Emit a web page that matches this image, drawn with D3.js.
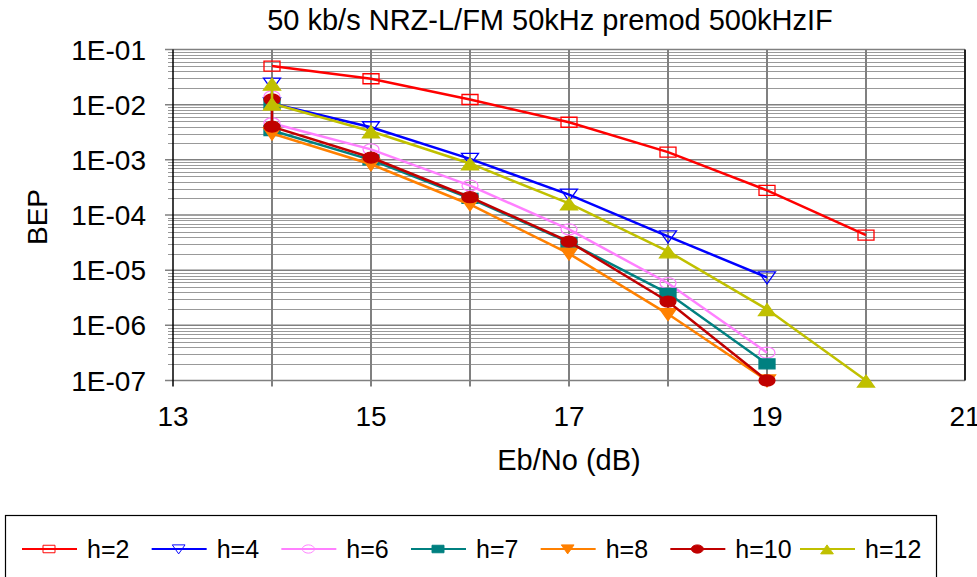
<!DOCTYPE html>
<html>
  <head>
    <meta charset="UTF-8">
    <script src="https://d3js.org/d3.v7.min.js"></script>
    <style>
      body { margin: 0; background: #fff; }
      #svg { display: block; }
      text { font-family: Arial, "Liberation Sans", sans-serif; fill: #000; }
    </style>
    <title>50 kb/s NRZ-L/FM 50kHz premod 500kHzIF</title>
  </head>
  <body>
    <svg id="svg" width="977" height="577"></svg>
    <script>

// ************ Data ************

      const seriesNames = ["h=2", "h=4", "h=6", "h=7", "h=8", "h=10", "h=12"];

      // Eb/No (dB) per series (some series have two readings at 14 dB)
      const ebnoH2  = [14, 15, 16, 17, 18, 19, 20];
      const ebnoH4  = [14, 14, 15, 16, 17, 18, 19];
      const ebnoH6  = [14, 14, 15, 16, 17, 18, 19];
      const ebnoH7  = [14, 14, 15, 16, 17, 18, 19];
      const ebnoH8  = [14, 15, 16, 17, 18, 19];
      const ebnoH10 = [14, 14, 15, 16, 17, 18, 19];
      const ebnoH12 = [14, 14, 15, 16, 17, 18, 19, 20];

      // bit error probability
      const bepH2  = [0.05, 0.0295, 0.0124, 0.0048, 0.00138, 0.00028, 0.000043];
      const bepH4  = [0.024, 0.0105, 0.0039, 0.00104, 0.000234, 0.000041, 0.0000074];
      const bepH6  = [0.0141, 0.0046, 0.00155, 0.00034, 0.000055, 0.0000058, 0.00000032];
      const bepH7  = [0.0105, 0.0034, 0.001, 0.0002, 0.000032, 0.0000038, 0.0000002];
      const bepH8  = [0.003, 0.00083, 0.000155, 0.00002, 0.0000016, 0.0000001];
      const bepH10 = [0.0124, 0.004, 0.0011, 0.00021, 0.000033, 0.0000027, 0.0000001];
      const bepH12 = [0.024, 0.0105, 0.0033, 0.00086, 0.000162, 0.000022, 0.00000196, 0.0000001];

      const xTicks = [13, 15, 17, 19, 21];
      const yTicks = [1e-1, 1e-2, 1e-3, 1e-4, 1e-5, 1e-6, 1e-7];

      // styles
      const colors  = ["#ff0000", "#0000ff", "#ff80ff", "#008080", "#ff8000", "#c00000", "#c0c000"];
      const markers = ["square", "triDown", "circle", "square", "triDown", "circle", "triUp"];
      const filled  = [false, false, false, true, true, true, true];

      const xsList = [ebnoH2, ebnoH4, ebnoH6, ebnoH7, ebnoH8, ebnoH10, ebnoH12];
      const ysList = [bepH2, bepH4, bepH6, bepH7, bepH8, bepH10, bepH12];

      const series = seriesNames.map((name, i) => ({
        name: name,
        color: colors[i],
        marker: markers[i],
        filled: filled[i],
        values: xsList[i].map((x, j) => ({ x: x, y: ysList[i][j] }))
      }));

// ************ Scales, grid, axes ************

      const svg = d3.select("svg#svg");
      const margin = { top: 49.5, left: 173, right: 965, bottom: 380.5 };

      const xScale = d3.scaleLinear().domain([13, 21]).range([margin.left, margin.right]);
      const yScale = d3.scaleLog().domain([1e-7, 1e-1]).range([margin.bottom, margin.top]);

      // minor horizontal gridlines (2..9 of each decade)
      const minorVals = [];
      for (let e = -7; e < -1; e++) {
        for (let m = 2; m <= 9; m++) minorVals.push(m * Math.pow(10, e));
      }

      const grid = svg.append("g").attr("class", "grid");

      grid.selectAll("line.minor")
        .data(minorVals)
        .enter()
        .append("line")
        .attr("class", "minor")
        .attr("x1", margin.left - 5)
        .attr("x2", margin.right)
        .attr("y1", d => Math.round(yScale(d)) + 0.5)
        .attr("y2", d => Math.round(yScale(d)) + 0.5)
        .attr("stroke", "#999")
        .attr("stroke-width", 1);

      grid.selectAll("line.major")
        .data(yTicks)
        .enter()
        .append("line")
        .attr("class", "major")
        .attr("x1", margin.left - 8)
        .attr("x2", margin.right)
        .attr("y1", d => yScale(d))
        .attr("y2", d => yScale(d))
        .attr("stroke", "#808080")
        .attr("stroke-width", 1.5);

      // vertical gridlines at every dB
      grid.selectAll("line.vert")
        .data(d3.range(14, 21))
        .enter()
        .append("line")
        .attr("class", "vert")
        .attr("x1", d => xScale(d))
        .attr("x2", d => xScale(d))
        .attr("y1", margin.top)
        .attr("y2", margin.bottom + 6)
        .attr("stroke", "#808080")
        .attr("stroke-width", 2);

      // left axis
      svg.append("line")
        .attr("x1", margin.left).attr("x2", margin.left)
        .attr("y1", margin.top).attr("y2", margin.bottom + 6)
        .attr("stroke", "#000").attr("stroke-width", 1.5);

      // right border
      svg.append("line")
        .attr("x1", margin.right).attr("x2", margin.right)
        .attr("y1", margin.top).attr("y2", margin.bottom)
        .attr("stroke", "#222").attr("stroke-width", 2);

      // tick labels
      svg.selectAll("text.ylab")
        .data(yTicks)
        .enter()
        .append("text")
        .attr("class", "ylab")
        .attr("x", 146)
        .attr("y", d => yScale(d) + 10)
        .attr("text-anchor", "end")
        .style("font-size", "28px")
        .text(d => "1E-0" + Math.round(-Math.log10(d)));

      svg.selectAll("text.xlab")
        .data(xTicks)
        .enter()
        .append("text")
        .attr("class", "xlab")
        .attr("x", d => xScale(d))
        .attr("y", 426)
        .attr("text-anchor", "middle")
        .style("font-size", "28px")
        .text(d => d);

// ************ Series ************

      function markerPath(type) {
        if (type === "square") return "M-8,-5H8V5H-8Z";
        if (type === "triDown") return "M-8.5,-5.5L8.5,-5.5L0,6.5Z";
        if (type === "triUp") return "M-8.5,6.5L8.5,6.5L0,-5.5Z";
        return "M-8,0A8,5.5 0 1,0 8,0A8,5.5 0 1,0 -8,0Z";
      }

      const lineGen = d3.line()
        .x(d => xScale(d.x))
        .y(d => yScale(d.y));

      const plot = svg.append("g").attr("id", "plot");

      series.forEach(s => {
        const g = plot.append("g");
        g.append("path")
          .datum(s.values)
          .attr("d", lineGen)
          .attr("fill", "none")
          .attr("stroke", s.color)
          .attr("stroke-width", 2.5);

        g.selectAll("path.mk")
          .data(s.values)
          .enter()
          .append("path")
          .attr("class", "mk")
          .attr("d", markerPath(s.marker))
          .attr("transform", d => "translate(" + xScale(d.x) + "," + yScale(d.y) + ")")
          .attr("fill", s.filled ? s.color : "none")
          .attr("stroke", s.color)
          .attr("stroke-width", 1.3);
      });

// ************ Titles ************

      svg.append("text")
        .attr("x", 550)
        .attr("y", 30)
        .attr("text-anchor", "middle")
        .style("font-size", "29px")
        .text("50 kb/s NRZ-L/FM 50kHz premod 500kHzIF");

      svg.append("text")
        .attr("x", 569)
        .attr("y", 470)
        .attr("text-anchor", "middle")
        .style("font-size", "29px")
        .text("Eb/No (dB)");

      svg.append("text")
        .attr("transform", "translate(47,217) rotate(-90)")
        .attr("text-anchor", "middle")
        .style("font-size", "28px")
        .text("BEP");

// ************ Legend ************

      const legend = svg.append("g").attr("id", "legend");

      legend.append("rect")
        .attr("x", 5.5)
        .attr("y", 515.5)
        .attr("width", 931)
        .attr("height", 80)
        .attr("fill", "#fff")
        .attr("stroke", "#000")
        .attr("stroke-width", 1.2);

      const legendX = d3.scalePoint().domain(seriesNames).range([22, 800]);

      const item = legend.selectAll("g.item")
        .data(series)
        .enter()
        .append("g")
        .attr("class", "item")
        .attr("transform", d => "translate(" + legendX(d.name) + ",549)");

      item.append("line")
        .attr("x1", 0).attr("x2", 55)
        .attr("stroke", d => d.color)
        .attr("stroke-width", 2);

      item.append("path")
        .attr("d", d => markerPath(d.marker))
        .attr("transform", "translate(27,0) scale(0.75)")
        .attr("fill", d => d.filled ? d.color : "none")
        .attr("stroke", d => d.color)
        .attr("stroke-width", 1.3);

      item.append("text")
        .attr("x", 65)
        .attr("y", 9)
        .style("font-size", "25px")
        .text(d => d.name);

    </script>
  </body>
</html>
